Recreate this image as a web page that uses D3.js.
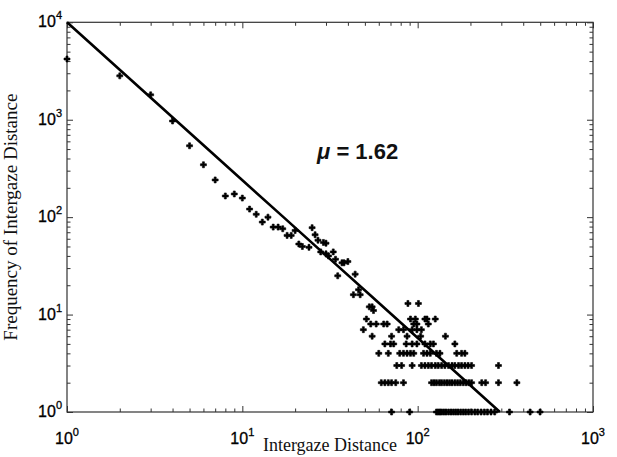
<!DOCTYPE html>
<html>
<head>
<meta charset="utf-8">
<script src="https://cdn.jsdelivr.net/npm/d3@7"></script>
<style>
  body { margin: 0; background: #fff; }
  svg { display: block; }
</style>
</head>
<body>
<div id="chart-area"></div>
<script>
// points above the integer-count rows (distance, frequency)
const headDist = [1, 2, 3, 4, 5, 6, 7, 8, 9, 10, 11, 12, 13, 14, 15, 16, 17, 18, 19, 20,
  21, 22, 24, 25, 26, 27, 28, 29, 30, 30, 31, 33, 34, 35, 37, 38, 40, 44, 43, 47, 46]
const headFreq = [4200, 2820, 1800, 970, 540, 345, 241, 165, 173, 157, 121, 107, 89, 100, 79, 79, 76, 65, 65, 73,
  53, 50, 49, 78, 66, 58, 44, 55, 54, 42, 40, 44, 37, 25, 34, 34, 35, 26, 16, 16, 18]

// low counts: distances observed at each integer frequency
const dist13 = [88, 101]
const dist12 = [53, 55]
const dist11 = [56]
const dist9 = [51, 91, 97, 110, 113, 126]
const dist8 = [54, 58, 64, 67, 95, 99, 115]
const dist7 = [49, 78, 83, 93, 99, 105]
const dist6 = [55, 71, 87, 104, 144]
const dist5 = [65, 70, 73, 86, 93, 99, 110, 118, 123, 163]
const dist4 = [60, 68, 79, 83, 87, 91, 95, 108, 113, 118, 128, 134, 167, 178, 186]
const dist3 = [76, 81, 93, 105, 110, 115, 120, 126, 131, 137, 143, 150, 157, 163, 171, 178, 186, 194, 203, 289]
const dist2 = [62, 65, 68, 71, 75, 83, 120, 124, 128, 133, 137, 142, 147, 152, 157, 163, 169, 175, 182,
  189, 196, 203, 232, 244, 289, 368]
const dist1 = [71, 90, 128, 131, 134, 137, 141, 145, 150, 155, 160, 165, 170, 176, 182, 188, 195, 203,
  212, 220, 230, 240, 250, 262, 275, 334, 438, 499]

// power-law fit  f = C * d^-mu
const fitC = 10000
const fitMu = 1.62

// tick labels (powers of ten)
const xTickExps = [0, 1, 2, 3]
const yTickExps = [0, 1, 2, 3, 4]

const W = 617
const H = 457
const MARGIN = { LEFT: 67, RIGHT: 24, TOP: 22.3, BOTTOM: 45 }

const svg = d3.select("#chart-area").append("svg")
  .attr("width", W)
  .attr("height", H)
  .style("background", "#fff")

const x = d3.scaleLog().domain([1, 1000]).range([MARGIN.LEFT, W - MARGIN.RIGHT])
const y = d3.scaleLog().domain([1, 10000]).range([H - MARGIN.BOTTOM, MARGIN.TOP])

// gather points
const lowRows = [[13, dist13], [12, dist12], [11, dist11], [9, dist9], [8, dist8], [7, dist7],
  [6, dist6], [5, dist5], [4, dist4], [3, dist3], [2, dist2], [1, dist1]]
const points = headDist.map((d, i) => ({ dist: d, freq: headFreq[i] }))
lowRows.forEach(([f, ds]) => ds.forEach(d => points.push({ dist: d, freq: f })))

// minor / major tick values
const xMajor = xTickExps.map(e => Math.pow(10, e))
const yMajor = yTickExps.map(e => Math.pow(10, e))
const minorOf = majors => majors.slice(0, -1).flatMap(m => d3.range(2, 10).map(k => k * m))
const xMinor = minorOf(xMajor)
const yMinor = minorOf(yMajor)

const x0 = x.range()[0], x1 = x.range()[1]
const y0 = y.range()[0], y1 = y.range()[1]

// ticks on all four sides, pointing inward
function tickAxis(gen, vals, size, transform) {
  const g = svg.append("g")
    .attr("transform", transform)
    .call(gen.tickValues(vals).tickSizeInner(size).tickSizeOuter(0).tickFormat(""))
  g.select(".domain").remove()
  g.selectAll("line").attr("stroke", "#333").attr("stroke-width", 1)
}
tickAxis(d3.axisBottom(x), xMajor, -6, `translate(0,${y0})`)
tickAxis(d3.axisBottom(x), xMinor, -3.5, `translate(0,${y0})`)
tickAxis(d3.axisTop(x), xMajor, -6, `translate(0,${y1})`)
tickAxis(d3.axisTop(x), xMinor, -3.5, `translate(0,${y1})`)
tickAxis(d3.axisLeft(y), yMajor, -6, `translate(${x0},0)`)
tickAxis(d3.axisLeft(y), yMinor, -3.5, `translate(${x0},0)`)
tickAxis(d3.axisRight(y), yMajor, -6, `translate(${x1},0)`)
tickAxis(d3.axisRight(y), yMinor, -3.5, `translate(${x1},0)`)

// frame
svg.append("rect")
  .attr("x", x0).attr("y", y1)
  .attr("width", x1 - x0).attr("height", y0 - y1)
  .attr("fill", "none")
  .attr("stroke", "#333")
  .attr("stroke-width", 1.2)

// tick labels
const labelFont = "'Liberation Sans', Arial, sans-serif"
const xLabels = svg.append("g").attr("font-family", labelFont).attr("fill", "#000")
xLabels.selectAll("text").data(xTickExps).join("text")
  .attr("x", e => x(Math.pow(10, e)))
  .attr("y", y0 + 32)
  .attr("text-anchor", "middle")
  .attr("font-size", 16)
  .attr("stroke", "#000").attr("stroke-width", 0.3)
  .each(function (e) {
    const t = d3.select(this)
    t.append("tspan").text("10")
    t.append("tspan").attr("dy", -8).attr("font-size", 11).text(e)
  })

const yLabels = svg.append("g").attr("font-family", labelFont).attr("fill", "#000")
yLabels.selectAll("text").data(yTickExps).join("text")
  .attr("x", x0 - 5)
  .attr("y", e => y(Math.pow(10, e)) + 5)
  .attr("text-anchor", "end")
  .attr("font-size", 16)
  .attr("stroke", "#000").attr("stroke-width", 0.3)
  .each(function (e) {
    const t = d3.select(this)
    t.append("tspan").text("10")
    t.append("tspan").attr("dy", -8).attr("font-size", 11).text(e)
  })

// axis titles
svg.append("text")
  .attr("x", (x0 + x1) / 2)
  .attr("y", H - 6)
  .attr("text-anchor", "middle")
  .attr("font-family", "'Liberation Serif', 'Times New Roman', serif")
  .attr("font-size", 18)
  .attr("fill", "#111")
  .text("Intergaze Distance")

svg.append("text")
  .attr("transform", `translate(17,${(y0 + y1) / 2}) rotate(-90)`)
  .attr("text-anchor", "middle")
  .attr("font-family", "'Liberation Serif', 'Times New Roman', serif")
  .attr("font-size", 19)
  .attr("fill", "#111")
  .text("Frequency of Intergaze Distance")

// fitted line, clipped to the plot
const dEnd = Math.pow(fitC, 1 / fitMu)
const fitPts = d3.range(0, 11).map(i => {
  const d = Math.pow(dEnd, i / 10)
  return { dist: d, freq: fitC * Math.pow(d, -fitMu) }
})
const line = d3.line()
  .x(d => x(d.dist))
  .y(d => y(d.freq))
svg.append("path")
  .attr("d", line(fitPts))
  .attr("fill", "none")
  .attr("stroke", "#000")
  .attr("stroke-width", 2.6)

// data points
svg.append("g").selectAll("path").data(points).join("path")
  .attr("transform", d => `translate(${x(d.dist)},${y(d.freq)})`)
  .attr("d", d3.symbol().type(d3.symbolCross).size(20))
  .attr("fill", "#000")
  .attr("stroke", "#000")
  .attr("stroke-width", 0.6)

// annotation
const ann = svg.append("text")
  .attr("x", 317)
  .attr("y", 159)
  .attr("font-family", labelFont)
  .attr("font-size", 22)
  .attr("font-weight", "bold")
  .attr("fill", "#111")
ann.append("tspan").attr("font-style", "italic").text("\u03bc")
ann.append("tspan").text(" = 1.62")
</script>
</body>
</html>
